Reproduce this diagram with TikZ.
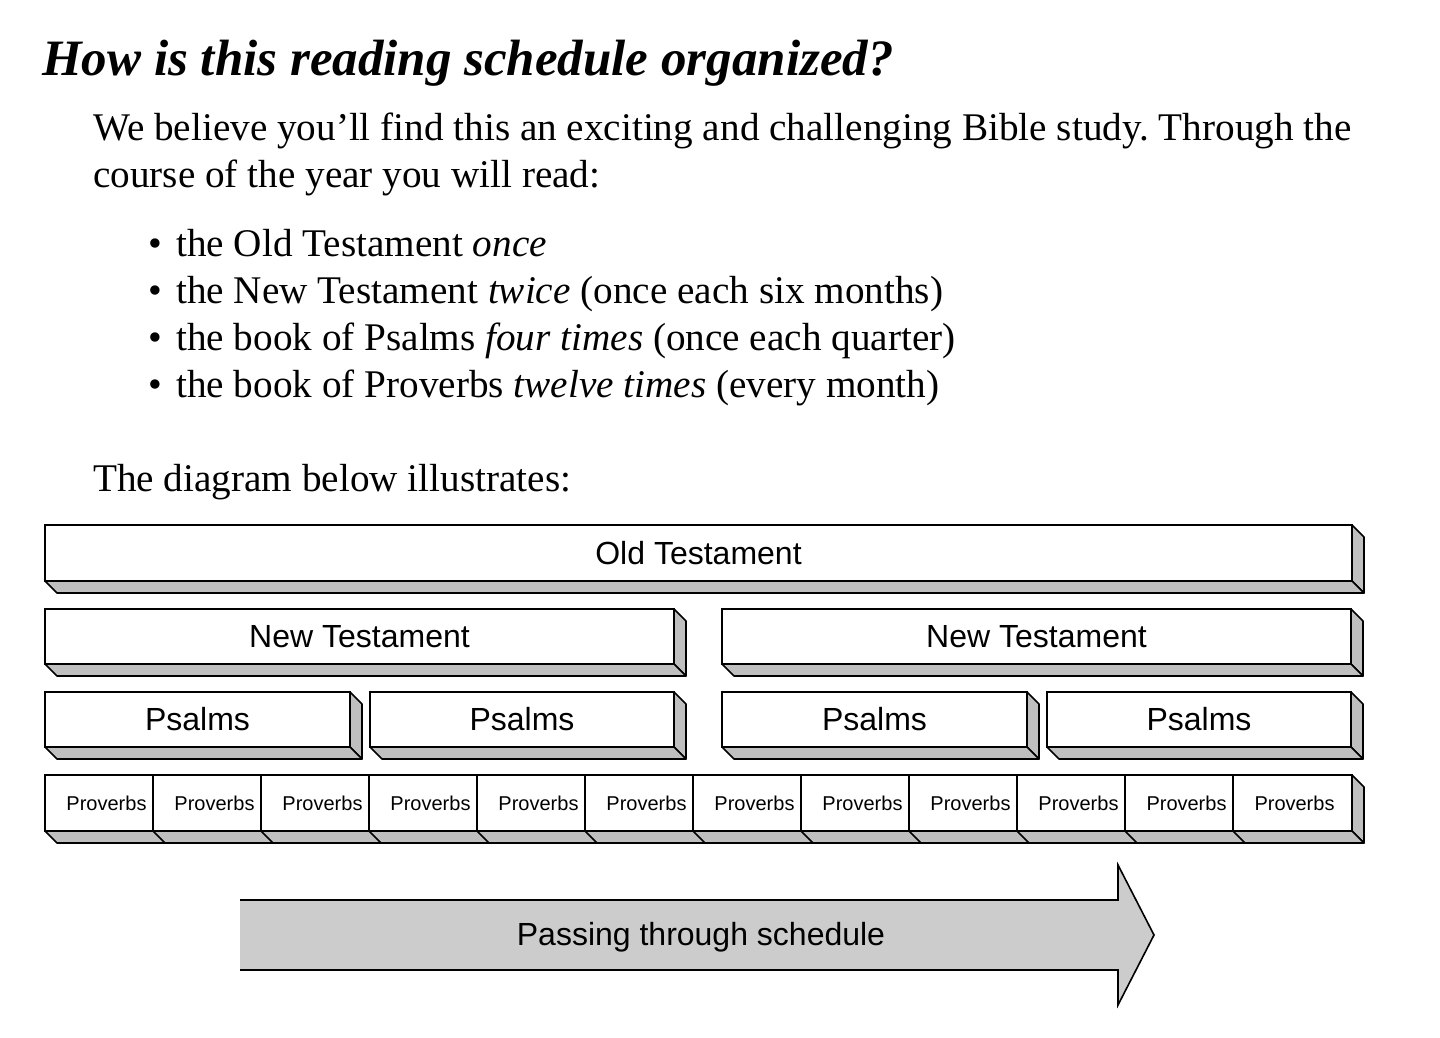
\documentclass[tikz,border=0pt]{standalone}
\usepackage{fontspec}
\setmainfont{Liberation Serif}
\newfontfamily\arial{Liberation Sans}
\usetikzlibrary{calc}
\frenchspacing

\tikzset{
  slabface/.style={draw=black, fill=white, line width=1.6pt, inner sep=0pt, outer sep=0pt,
                   anchor=north west, font=\arial\fontsize{32}{38}\selectfont},
  slabside/.style={draw=black, fill=black!25, line width=1.6pt, line join=round},
  provface/.style={slabface, font=\arial\fontsize{20}{24}\selectfont, text depth=0pt},
  bodyline/.style={anchor=base west, inner sep=0pt, font=\fontsize{39.2}{47}\selectfont},
  bulletmark/.style={anchor=base west, inner sep=0pt, font=\fontsize{39.2}{47}\selectfont},
  arrowbody/.style={fill=black!20},
  arrowedge/.style={draw=black, line width=1.6pt, line join=miter},
}

% a raised box: front face plus right and bottom sides, 12 units deep
\newcommand\slab[7]{% style, name, x, y, width, height, label
  \node[#1, minimum width=#5pt, minimum height=#6pt] (#2) at (#3,#4) {#7};
  \draw[slabside] (#2.north east) -- ($(#2.north east)+(12,12)$)
        -- ($(#2.south east)+(12,12)$) -- (#2.south east) -- cycle;
  \draw[slabside] (#2.south west) -- ($(#2.south west)+(12,12)$)
        -- ($(#2.south east)+(12,12)$) -- (#2.south east) -- cycle;
}

\begin{document}
\begin{tikzpicture}[x=1pt,y=-1pt]
\useasboundingbox (0,0) rectangle (1440,1038);

% heading and introduction
\node[anchor=base west, inner sep=0pt, font=\bfseries\itshape\fontsize{51}{60}\selectfont]
  (title) at (42,76) {How is this reading schedule organized?};
\node[bodyline] (intro1) at (93,140)
  {We believe you’ll find this an exciting and challenging Bible study. Through the};
\node[bodyline] (intro2) at (93,187) {course of the year you will read:};

\node[bulletmark] (b1) at (148,256) {•};
\node[bodyline] (l1) at (176,256) {the Old Testament \textit{once}};
\node[bulletmark] (b2) at (148,303) {•};
\node[bodyline] (l2) at (176,303) {the New Testament \textit{twice} (once each six months)};
\node[bulletmark] (b3) at (148,350) {•};
\node[bodyline] (l3) at (176,350) {the book of Psalms \textit{four times} (once each quarter)};
\node[bulletmark] (b4) at (148,397) {•};
\node[bodyline] (l4) at (176,397) {the book of Proverbs \textit{twelve times} (every month)};

\node[bodyline] (lead) at (93,491) {The diagram below illustrates:};

% reading blocks
\slab{slabface}{ot}{45}{525}{1307}{56}{Old Testament}

\slab{slabface}{nt1}{45}{609}{629}{55}{New Testament}
\slab{slabface}{nt2}{722}{609}{629}{55}{New Testament}

\slab{slabface}{ps1}{45}{692}{305}{55}{Psalms}
\slab{slabface}{ps2}{370}{692}{304}{55}{Psalms}
\slab{slabface}{ps3}{722}{692}{305}{55}{Psalms}
\slab{slabface}{ps4}{1047}{692}{304}{55}{Psalms}

\foreach \i in {0,...,11} {
  \pgfmathsetmacro\px{45+108*\i}
  \slab{provface}{pr\i}{\px}{775}{119}{56}{\hspace*{4pt}Proverbs}
}

% direction arrow
\coordinate (atl) at (240,900);
\coordinate (abl) at (240,970);
\coordinate (ant) at (1118,900);
\coordinate (anb) at (1118,970);
\coordinate (aht) at (1118,865);
\coordinate (ahb) at (1118,1005);
\coordinate (atip) at (1154,935);
\fill[arrowbody] (atl) -- (ant) -- (aht) -- (atip) -- (ahb) -- (anb) -- (abl) -- cycle;
\draw[arrowedge] (atl) -- (ant) -- (aht) -- (atip) -- (ahb) -- (anb) -- (abl);
\node[inner sep=0pt, font=\arial\fontsize{32}{38}\selectfont] (arrowlabel) at (701,937)
  {Passing through schedule};
\end{tikzpicture}
\end{document}
